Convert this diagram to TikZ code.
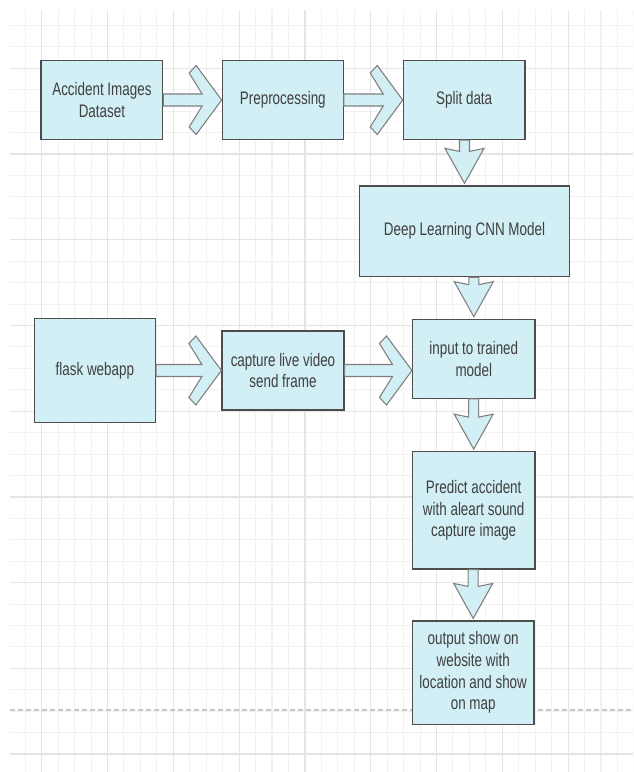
\documentclass[tikz,border=0pt]{standalone}
\usepackage{fontspec}
\usepackage{tikz}
\usetikzlibrary{calc}
\newfontfamily\boxfont[FakeStretch=0.74]{Liberation Sans}
\definecolor{boxfill}{HTML}{D1EFF4}
\definecolor{boxline}{HTML}{4D4D4D}
\definecolor{arrline}{HTML}{7F7F7F}
\definecolor{boxtext}{HTML}{3F3F3F}
\definecolor{gridminor}{HTML}{F1F1F1}
\definecolor{gridmajor}{HTML}{E4E4E4}
\tikzset{
	box/.style={draw=boxline,fill=boxfill,line width=0.9pt,inner sep=0pt,align=center,
		text=boxtext,font=\boxfont\fontsize{13.6}{16.3}\selectfont},
	blockarrow/.style={draw=arrline,fill=boxfill,line width=0.8pt,line join=miter},
	minorline/.style={gridminor,line width=0.8pt},
	majorline/.style={gridmajor,line width=0.9pt}
}
% block arrow to the right, tip on the left side of the target
\newcommand{\rarrow}[2]{%
	\coordinate (tip) at (#2.west |- #1.east);
	\filldraw[blockarrow] ($(#1.east)+(0,-6)$) -- ($(tip)+(-19.5,-6)$) -- ($(tip)+(-32.5,-27)$) -- ($(tip)+(-25.5,-34.5)$) -- (tip)
		-- ($(tip)+(-25.5,34.5)$) -- ($(tip)+(-32.5,27)$) -- ($(tip)+(-19.5,6)$) -- ($(#1.east)+(0,6)$) -- cycle;}
% block arrow downwards, tip on top of the target
\newcommand{\darrow}[2]{%
	\coordinate (tip) at ($(#2.north)+(0,-2)$);
	\coordinate (tail) at (#2.north |- #1.south);
	\filldraw[blockarrow] ($(tail)+(-5,0)$) -- ($(tip)+(-5,-32)$) -- ($(tip)+(-19.5,-35)$) -- (tip)
		-- ($(tip)+(19.5,-35)$) -- ($(tip)+(5,-32)$) -- ($(tail)+(5,0)$) -- cycle;}

\begin{document}
\begin{tikzpicture}[x=0.75pt,y=-0.75pt]
	\fill[white] (0,0) rectangle (633,772);
	\useasboundingbox (0,0) rectangle (633,772);
	% grid
	\begin{scope}
		\clip (10,10) rectangle (633,772);
		\foreach \i in {-2,...,36} \draw[minorline] ({41.7+16.45*\i},10) -- ({41.7+16.45*\i},772);
		\foreach \i in {-3,...,33} \draw[minorline] (10,{68.3+21.43*\i}) -- (633,{68.3+21.43*\i});
		\foreach \i in {0,...,9} \draw[majorline] ({41.7+65.8*\i},10) -- ({41.7+65.8*\i},772);
		\foreach \i in {0,...,8} \draw[majorline] (10,{68.3+85.72*\i}) -- (633,{68.3+85.72*\i});
	\end{scope}
	\draw[black!22,line width=1.1pt,dash pattern=on 3.8pt off 2.2pt] (10,710) -- (633,710);

	\node[box,minimum width=91.3pt,minimum height=59pt] (data) at (101.9,100) {Accident Images\\Dataset};
	\node[box,minimum width=90.8pt,minimum height=59pt] (prep) at (282.8,100) {Preprocessing};
	\node[box,minimum width=91.3pt,minimum height=59pt] (split) at (464.2,100.2) {Split data};
	\node[box,minimum width=157.5pt,minimum height=68pt] (cnn) at (464.5,231.3) {Deep Learning CNN Model};
	\node[box,minimum width=90.8pt,minimum height=78.3pt] (flask) at (94.9,370.5) {flask webapp};
	\node[box,minimum width=91.5pt,minimum height=59.3pt] (capture) at (283,370.5) {capture live video\\send frame};
	\node[box,minimum width=91.8pt,minimum height=59.3pt] (input) at (473.8,358.8) {input to trained\\model};
	\node[box,minimum width=92pt,minimum height=88pt] (predict) at (473.7,510.4) {Predict accident\\with aleart sound\\capture image};
	\node[box,minimum width=91.3pt,minimum height=77.5pt] (output) at (473.2,672.7) {output show on\\website with\\location and show\\on map};

	\rarrow{data}{prep}
	\rarrow{prep}{split}
	\darrow{split}{cnn}
	\darrow{cnn}{input}
	\rarrow{flask}{capture}
	\rarrow{capture}{input}
	\darrow{input}{predict}
	\darrow{predict}{output}
\end{tikzpicture}
\end{document}
